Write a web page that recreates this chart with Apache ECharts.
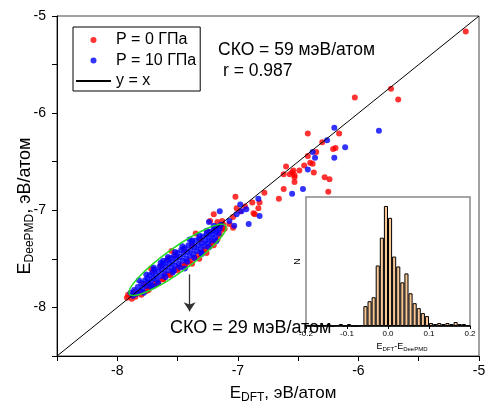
<!DOCTYPE html>
<html>
<head>
<meta charset="utf-8">
<script src="https://cdn.jsdelivr.net/npm/echarts@6/dist/echarts.min.js"></script>
<style>
html, body { margin: 0; padding: 0; background: #fff; }
#main { width: 486px; height: 401px; }
</style>
</head>
<body>
<div id="main"></div>
<script>
// P = 0 GPa points (x = E_DFT, y = E_DeePMD)
var p0Points = [
  [-5.11, -5.16], [-5.73, -5.75], [-5.67, -5.86], [-6.03, -5.84], [-6.16, -6.21],
  [-6.42, -6.21], [-6.30, -6.30], [-6.21, -6.37], [-6.19, -6.36], [-6.35, -6.40],
  [-6.42, -6.44], [-6.40, -6.51], [-6.38, -6.52], [-6.45, -6.54], [-6.60, -6.55],
  [-6.54, -6.59], [-6.55, -6.61], [-6.53, -6.64], [-6.49, -6.59], [-6.37, -6.61],
  [-6.28, -6.66], [-6.24, -6.68], [-6.62, -6.63], [-6.57, -6.63], [-6.53, -6.66],
  [-6.53, -6.71], [-6.25, -6.81], [-6.62, -6.78], [-6.66, -6.88], [-6.78, -6.82],
  [-6.88, -6.92], [-6.82, -6.92], [-6.83, -6.98], [-6.87, -7.03], [-6.86, -7.04],
  [-6.94, -6.96], [-7.02, -6.86], [-7.01, -6.98], [-6.98, -7.01], [-7.04, -7.07],
  [-7.07, -7.14], [-7.20, -7.04], [-7.17, -7.12], [-7.13, -7.11], [-7.11, -7.19],
  [-7.04, -7.18], [-7.23, -7.11],
  // cluster
  [-7.92, -7.90], [-7.91, -7.87], [-7.88, -7.91], [-7.86, -7.84], [-7.85, -7.89],
  [-7.82, -7.85], [-7.80, -7.84], [-7.78, -7.76], [-7.76, -7.83], [-7.74, -7.80],
  [-7.72, -7.78], [-7.70, -7.62], [-7.69, -7.76], [-7.66, -7.74], [-7.64, -7.57],
  [-7.62, -7.71], [-7.60, -7.67], [-7.58, -7.50], [-7.57, -7.66], [-7.54, -7.63],
  [-7.52, -7.46], [-7.50, -7.60], [-7.47, -7.57], [-7.45, -7.40], [-7.43, -7.55],
  [-7.40, -7.52], [-7.38, -7.36], [-7.36, -7.49], [-7.33, -7.46], [-7.31, -7.30],
  [-7.29, -7.43], [-7.27, -7.40], [-7.25, -7.22], [-7.23, -7.37], [-7.21, -7.33],
  [-7.19, -7.18], [-7.17, -7.30], [-7.15, -7.25], [-7.13, -7.20], [-7.12, -7.15],
  [-7.80, -7.87], [-7.74, -7.82], [-7.68, -7.76], [-7.62, -7.71], [-7.56, -7.67],
  [-7.50, -7.62], [-7.44, -7.57], [-7.38, -7.55], [-7.32, -7.50], [-7.26, -7.44],
  [-7.20, -7.36], [-7.72, -7.60], [-7.55, -7.42], [-7.35, -7.24]
];

// P = 10 GPa points
var p10Points = [
  [-6.20, -6.15], [-6.26, -6.28], [-5.83, -6.18], [-6.11, -6.35], [-6.38, -6.40],
  [-6.36, -6.46], [-6.20, -6.46], [-6.42, -6.58], [-6.46, -6.78], [-6.55, -6.83],
  [-6.83, -6.88], [-6.82, -7.06], [-6.91, -7.14], [-6.98, -6.94], [-6.93, -6.99],
  [-6.97, -7.01], [-7.01, -7.04], [-7.15, -7.01], [-7.07, -7.11], [-7.03, -7.16],
  [-7.24, -7.12], [-7.44, -7.60],
  // cluster
  [-7.89, -7.85], [-7.87, -7.88], [-7.86, -7.82], [-7.84, -7.86], [-7.83, -7.79],
  [-7.81, -7.83], [-7.80, -7.75], [-7.79, -7.80], [-7.77, -7.72], [-7.76, -7.78],
  [-7.75, -7.70], [-7.74, -7.75], [-7.73, -7.67], [-7.72, -7.73], [-7.71, -7.64],
  [-7.70, -7.70], [-7.69, -7.61], [-7.68, -7.67], [-7.67, -7.72], [-7.66, -7.63],
  [-7.65, -7.58], [-7.64, -7.68], [-7.63, -7.61], [-7.62, -7.55], [-7.61, -7.65],
  [-7.60, -7.58], [-7.59, -7.52], [-7.58, -7.62], [-7.57, -7.55], [-7.56, -7.49],
  [-7.55, -7.59], [-7.54, -7.53], [-7.53, -7.47], [-7.52, -7.57], [-7.51, -7.50],
  [-7.50, -7.44], [-7.49, -7.55], [-7.48, -7.48], [-7.47, -7.41], [-7.46, -7.52],
  [-7.45, -7.45], [-7.44, -7.39], [-7.43, -7.50], [-7.42, -7.43], [-7.41, -7.36],
  [-7.40, -7.47], [-7.39, -7.41], [-7.38, -7.34], [-7.37, -7.45], [-7.36, -7.38],
  [-7.35, -7.31], [-7.34, -7.42], [-7.33, -7.36], [-7.32, -7.29], [-7.31, -7.40],
  [-7.30, -7.34], [-7.29, -7.27], [-7.28, -7.37], [-7.27, -7.31], [-7.26, -7.25],
  [-7.25, -7.34], [-7.24, -7.28], [-7.23, -7.22], [-7.22, -7.31], [-7.21, -7.25],
  [-7.20, -7.20], [-7.19, -7.28], [-7.18, -7.22], [-7.17, -7.17], [-7.16, -7.24],
  [-7.15, -7.19], [-7.14, -7.15], [-7.62, -7.52], [-7.40, -7.30], [-7.53, -7.62],
  [-7.30, -7.44], [-7.70, -7.78],
  [-7.82, -7.72], [-7.78, -7.85], [-7.76, -7.66], [-7.72, -7.79], [-7.70, -7.59],
  [-7.66, -7.75], [-7.64, -7.54], [-7.60, -7.69], [-7.58, -7.48], [-7.54, -7.64],
  [-7.52, -7.43], [-7.48, -7.59], [-7.46, -7.37], [-7.42, -7.53], [-7.38, -7.31],
  [-7.36, -7.49], [-7.32, -7.26], [-7.30, -7.45], [-7.26, -7.21], [-7.24, -7.38],
  [-7.20, -7.16], [-7.18, -7.32]
];

var diagLine = [[-8.5, -8.5], [-5, -5]];
var ellipseCenter = [[-7.5, -7.51]];
var arrowFrom = [-7.4, -7.66];
var arrowTo = [-7.4, -8.04];

// inset histogram of E_DFT - E_DeePMD
var histBins = [
  -0.195, -0.185, -0.175, -0.165, -0.155, -0.145, -0.135, -0.125, -0.115, -0.105,
  -0.095, -0.085, -0.075, -0.065, -0.055, -0.045, -0.035, -0.025, -0.015, -0.005,
  0.005, 0.015, 0.025, 0.035, 0.045, 0.055, 0.065, 0.075, 0.085, 0.095,
  0.105, 0.115, 0.125, 0.135, 0.145, 0.155, 0.165, 0.175, 0.185, 0.195
];
var histCounts = [
  1, 1, 0, 0, 1, 2, 0, 1, 2, 0,
  2, 0, 0, 1, 20, 25, 29, 61, 89, 121,
  109, 70, 60, 44, 53, 33, 23, 18, 13, 10,
  3, 2, 3, 2, 3, 2, 4, 2, 2, 1
];

var font = 'Liberation Sans, Arial, sans-serif';
var histData = histBins.map(function (b, i) { return [b, histCounts[i]]; });

function intLabel(v) {
  return Math.abs(v - Math.round(v)) < 1e-6 ? String(Math.round(v)) : '';
}

var chart = echarts.init(document.getElementById('main'));
chart.setOption({
  animation: false,
  backgroundColor: '#fff',
  textStyle: { fontFamily: font },
  grid: [
    { left: 57, right: 7, top: 16, bottom: 45, outerBoundsMode: 'none', containLabel: false,
      show: true, borderColor: '#444', borderWidth: 1 },
    { left: 306, right: 16, top: 197, bottom: 75, outerBoundsMode: 'none', containLabel: false,
      show: true, backgroundColor: '#fff', borderColor: '#888', borderWidth: 1.5 }
  ],
  legend: {
    left: 73, top: 27,
    orient: 'vertical',
    itemWidth: 35, itemHeight: 6, itemGap: 4.5,
    padding: [5, 4, 2, 2],
    borderColor: '#000', borderWidth: 1,
    backgroundColor: '#fff',
    textStyle: { fontSize: 16, color: '#000', fontFamily: font },
    data: [
      { name: 'P = 0 ГПа', icon: 'circle' },
      { name: 'P = 10 ГПа', icon: 'circle' },
      { name: 'y = x', itemStyle: { opacity: 0 } }
    ]
  },
  xAxis: [{
    gridIndex: 0, type: 'value', min: -8.5, max: -5, interval: 0.5,
    axisLine: { onZero: false, lineStyle: { color: '#000', width: 1 } },
    axisTick: { length: 5, lineStyle: { color: '#000' } },
    axisLabel: { formatter: intLabel, fontSize: 14, color: '#000', margin: 8 },
    splitLine: { show: false },
    name: '{e|E}{s|DFT}{e|, эВ/атом}',
    nameLocation: 'middle', nameGap: 27, nameMoveOverlap: false,
    nameTextStyle: {
      padding: [0, 0, 0, 30],
      rich: {
        e: { fontSize: 17, color: '#000', fontFamily: font },
        s: { fontSize: 12, color: '#000', fontFamily: font, padding: [9, 0, 0, 0] }
      }
    }
  }, {
    gridIndex: 1, type: 'value', min: -0.2, max: 0.2, interval: 0.1,
    axisLine: { onZero: false, lineStyle: { color: '#000', width: 1.5 } },
    axisTick: { length: 3, lineStyle: { color: '#000' } },
    axisLabel: { formatter: function (v) { return v.toFixed(1); }, fontSize: 8, color: '#000', margin: 4 },
    splitLine: { show: false },
    name: '{e|E}{s|DFT}{e|-E}{s|DeePMD}',
    nameLocation: 'middle', nameGap: 15, nameMoveOverlap: false,
    nameTextStyle: {
      padding: [0, 0, 0, 28],
      rich: {
        e: { fontSize: 9, color: '#000', fontFamily: font },
        s: { fontSize: 6, color: '#000', fontFamily: font, padding: [5, 0, 0, 0] }
      }
    }
  }],
  yAxis: [{
    gridIndex: 0, type: 'value', min: -8.5, max: -5, interval: 0.5,
    axisLine: { onZero: false, lineStyle: { color: '#000', width: 1 } },
    axisTick: { length: 5, lineStyle: { color: '#000' } },
    axisLabel: { formatter: intLabel, fontSize: 14, color: '#000', margin: 11 },
    splitLine: { show: false },
    name: '{e|E}{s|DeePMD}{e|, эВ/атом}',
    nameLocation: 'middle', nameGap: 21, nameRotate: 90, nameMoveOverlap: false,
    nameTextStyle: {
      padding: [0, 40, 0, 0],
      rich: {
        e: { fontSize: 18, color: '#000', fontFamily: font },
        s: { fontSize: 12, color: '#000', fontFamily: font, padding: [9, 0, 0, 0] }
      }
    }
  }, {
    gridIndex: 1, type: 'value', min: 0, max: 130,
    axisLine: { show: false },
    axisTick: { show: false },
    axisLabel: { show: false },
    splitLine: { show: false },
    name: 'N', nameLocation: 'middle', nameGap: 4, nameRotate: 90, nameMoveOverlap: false,
    nameTextStyle: { fontSize: 9, color: '#000' }
  }],
  graphic: [
    { type: 'text', left: 218, top: 41, style: { text: 'СКО = 59 мэВ/атом', font: '17.5px ' + font, fill: '#000' } },
    { type: 'text', left: 223, top: 62, style: { text: 'r = 0.987', font: '17.5px ' + font, fill: '#000' } },
    { type: 'text', left: 170, top: 319, style: { text: 'СКО = 29 мэВ/атом', font: '18px ' + font, fill: '#000' } }
  ],
  series: [{
    name: 'P = 0 ГПа', type: 'scatter', xAxisIndex: 0, yAxisIndex: 0,
    data: p0Points, symbolSize: 6,
    itemStyle: { color: '#ff0000' }
  }, {
    name: 'P = 10 ГПа', type: 'scatter', xAxisIndex: 0, yAxisIndex: 0,
    data: p10Points, symbolSize: 6,
    itemStyle: { color: '#0000ff' }
  }, {
    name: 'y = x', type: 'line', xAxisIndex: 0, yAxisIndex: 0,
    data: diagLine, symbol: 'none',
    lineStyle: { color: '#000', width: 1 },
    itemStyle: { color: '#000' },
    markLine: {
      silent: true,
      symbol: ['none', 'arrow'],
      symbolSize: 9,
      label: { show: false },
      lineStyle: { color: '#333', width: 1.3, type: 'solid' },
      data: [[{ coord: arrowFrom }, { coord: arrowTo }]]
    }
  }, {
    name: 'ellipse', type: 'custom', xAxisIndex: 0, yAxisIndex: 0,
    data: ellipseCenter,
    silent: true, z: 5,
    renderItem: function (params, api) {
      var c = api.coord([api.value(0), api.value(1)]);
      return {
        type: 'ellipse',
        x: c[0], y: c[1],
        rotation: 35.5 * Math.PI / 180,
        shape: { cx: 0, cy: 0, rx: 59, ry: 12 },
        style: { fill: 'none', stroke: '#22dd22', lineWidth: 1.5 }
      };
    }
  }, {
    name: 'hist', type: 'bar', xAxisIndex: 1, yAxisIndex: 1,
    data: histData, barWidth: 4.1,
    itemStyle: { color: '#f9c896', borderColor: '#000', borderWidth: 1 }
  }]
});
</script>
</body>
</html>
